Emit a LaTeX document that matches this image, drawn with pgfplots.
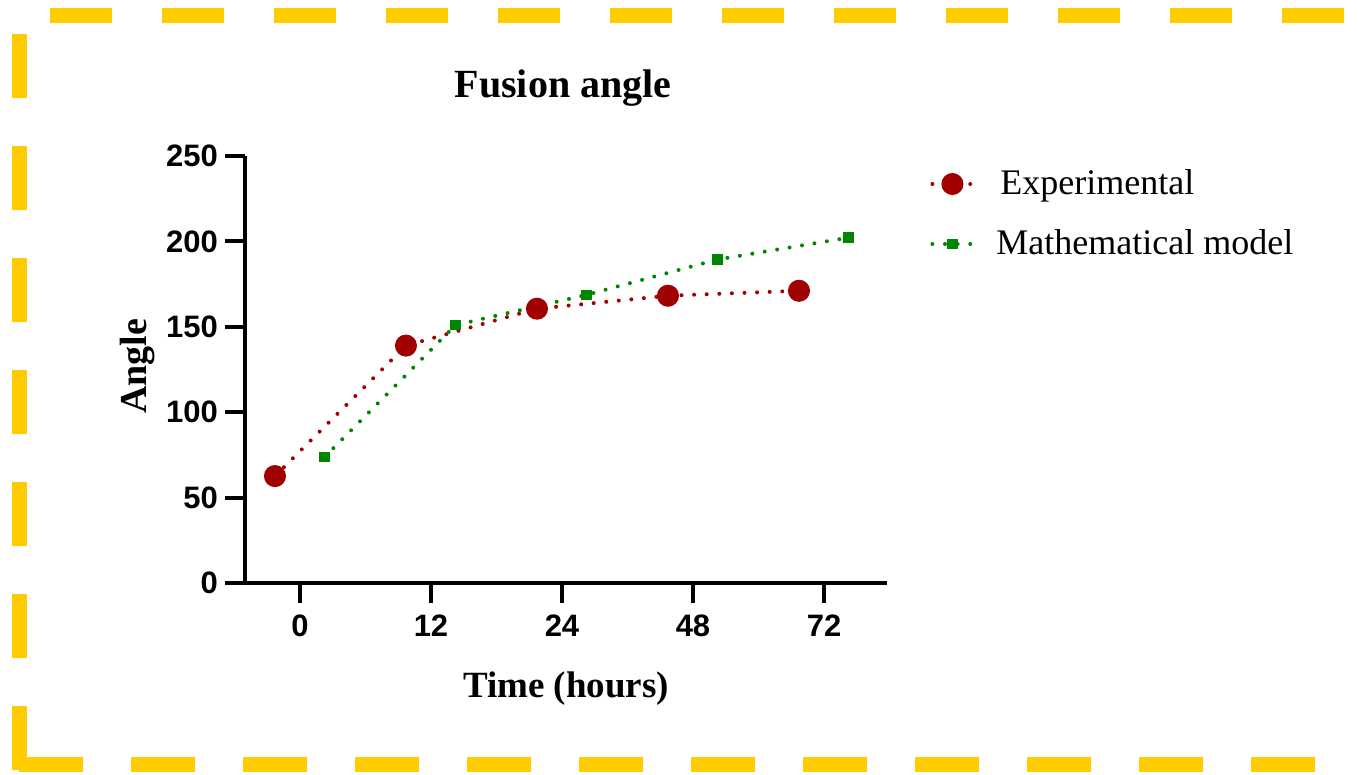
\documentclass[border=0pt]{standalone}
\usepackage{fontspec}
\setmainfont{Liberation Serif}
\newfontfamily\arialfont{Liberation Sans}
\usepackage{pgfplots}
\pgfplotsset{compat=1.18}
\definecolor{expred}{RGB}{160,0,0}
\definecolor{modgreen}{RGB}{0,135,0}
\definecolor{borderyellow}{RGB}{255,204,0}
\begin{document}
\begin{tikzpicture}
\useasboundingbox (0pt,0pt) rectangle (679pt,-387.5pt);
% dashed frame
\draw[borderyellow, line width=7.5pt, dash pattern=on 31pt off 25pt] (25pt,-8pt) -- (673pt,-8pt);
\draw[borderyellow, line width=7.5pt, dash pattern=on 32pt off 24pt] (9.75pt,-17pt) -- (9.75pt,-386pt);
\draw[borderyellow, line width=7.5pt, dash pattern=on 32pt off 24pt] (9.5pt,-382.25pt) -- (657.5pt,-382.25pt);
% title
\node[anchor=base, font=\bfseries\fontsize{20}{20}\selectfont] at (281.5pt,-49pt) {Fusion angle};
\begin{axis}[
  at={(122.5pt,-291.5pt)}, anchor=south west,
  scale only axis, width=321pt, height=213.5pt,
  xmin=-0.4198, xmax=4.481, ymin=0, ymax=250,
  axis x line=bottom, axis y line=left,
  axis line style={-, line width=2.15pt},
  every tick/.style={black, line width=2pt},
  tick align=outside, major tick length=10pt,
  xtick={0,1,2,3,4}, xticklabels={0,12,24,48,72},
  ytick={0,50,100,150,200,250},
  ticklabel style={font=\arialfont\bfseries\fontsize{15.5}{15.5}\selectfont},
  xticklabel style={yshift=-2.5pt},
  /pgf/number format/assume math mode=true,
  xlabel={Time (hours)}, ylabel={Angle},
  xlabel style={at={(axis description cs:0.5,-0.269)}, anchor=base, font=\bfseries\fontsize{18.5}{18.5}\selectfont},
  ylabel style={at={(axis description cs:-0.168,0.508)}, anchor=center, font=\bfseries\fontsize{19}{19}\selectfont},
  clip=false,
  legend style={draw=none, fill=none, at={(axis description cs:1.067,0.9368)}, anchor=west,
    yshift=-15.5pt,
    font=\fontsize{18}{18}\selectfont, row sep=12pt, inner sep=0pt,
    nodes={inner sep=2pt}},
  legend cell align=left,
  legend image code/.code={\draw[mark repeat=2,mark phase=2,#1] plot coordinates {(0pt,0pt) (10pt,0pt) (20pt,0pt)};},
  /tikz/every even column/.append style={column sep=0pt},
]
\addplot[expred, line width=2pt, line cap=round, dash pattern=on 0pt off 6.3pt,
  mark=*, mark size=4.5pt, mark options={solid, fill=expred, draw=expred}]
  coordinates {(-0.191,62.6) (0.809,139) (1.809,160.6) (2.809,168.2) (3.809,171.1)};
\addlegendentry{\hspace{11pt}Experimental}
\addplot[modgreen, line width=2pt, line cap=round, dash pattern=on 0pt off 6.3pt,
  mark=square*, mark size=1.6pt, mark options={solid, fill=modgreen, draw=modgreen}]
  coordinates {(0.187,73.7) (1.187,151) (2.187,168.7) (3.187,189.4) (4.187,202.2)};
\addlegendentry{\hspace{9pt}Mathematical model}
\draw[line width=2.15pt] (axis cs:-0.4198,0) -- ++(-9.5pt,0);
\end{axis}
\end{tikzpicture}
\end{document}
